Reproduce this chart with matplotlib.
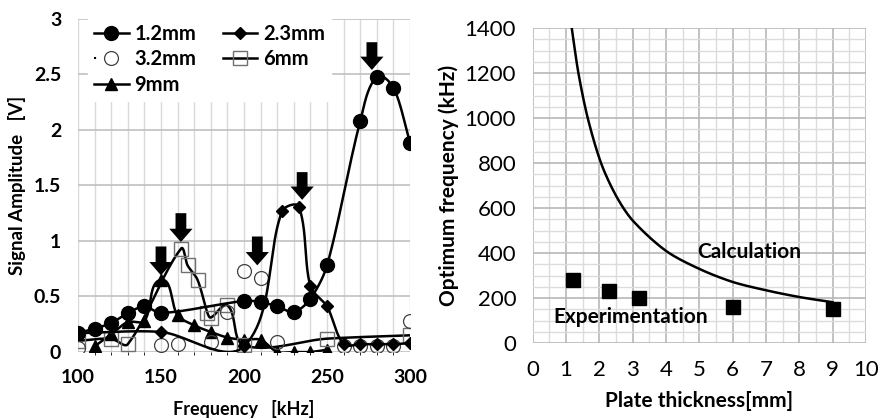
import numpy as np
import matplotlib
matplotlib.use("Agg")
from matplotlib import pyplot as plt
from matplotlib.lines import Line2D

plt.rcParams['font.family'] = ['Lato', 'DejaVu Sans']

# left chart: signal amplitude vs frequency
f_12 = [100, 110, 120, 130, 140, 150, 200, 210, 220, 230, 240, 250, 270, 280, 290, 300]
v_12 = [0.17, 0.21, 0.26, 0.35, 0.41, 0.35, 0.46, 0.45, 0.41, 0.36, 0.48, 0.78, 2.08, 2.48, 2.38, 1.88]
f_23 = [100, 150, 200, 223, 233, 240, 250, 260, 270, 280, 290, 300]
v_23 = [0.17, 0.18, 0.05, 1.27, 1.31, 0.59, 0.41, 0.07, 0.07, 0.07, 0.07, 0.08]
f_32 = [100, 150, 160, 180, 190, 200, 210, 220, 260, 270, 280, 290, 300]
v_32 = [0.04, 0.06, 0.07, 0.09, 0.36, 0.73, 0.67, 0.09, 0.05, 0.05, 0.05, 0.05, 0.28]
f_6 = [100, 120, 130, 162, 166, 172, 178, 180, 190, 200, 250, 300]
v_6 = [0.10, 0.12, 0.07, 0.93, 0.78, 0.65, 0.35, 0.31, 0.42, 0.06, 0.12, 0.15]
f_9 = [110, 120, 130, 140, 150, 160, 170, 180, 190, 200, 210, 220, 230, 240, 250]
v_9 = [0.05, 0.16, 0.27, 0.28, 0.65, 0.33, 0.24, 0.18, 0.13, 0.11, 0.11, 0.0, 0.0, 0.0, 0.02]

# arrows: frequency, top, tip
arrow_f = [150, 162, 208, 235, 277]
arrow_top = [0.95, 1.25, 1.04, 1.62, 2.79]
arrow_tip = [0.69, 0.99, 0.78, 1.37, 2.54]

# right chart: optimum frequency vs plate thickness
thick_exp = [1.2, 2.3, 3.2, 6, 9]
freq_exp = [280, 230, 200, 160, 150]
thick_calc = [1.17, 1.37, 1.65, 2.05, 2.5, 3, 4, 5, 6, 7, 8, 9]
freq_calc = [1400, 1200, 1000, 800, 655, 545, 410, 330, 272, 235, 205, 182]


def smooth(x, y, sx=1.0, sy=1.0, k=0.3, n=24):
    # bezier through the points, tangent from neighbours, handle length from
    # the segment length (worked out in screen-like units sx, sy)
    p = np.column_stack([np.asarray(x, float) * sx, np.asarray(y, float) * sy])
    m = len(p)
    tang = np.zeros_like(p)
    for i in range(m):
        a = p[max(i - 1, 0)]
        b = p[min(i + 1, m - 1)]
        d = b - a
        tang[i] = d / (np.hypot(*d) or 1)
    out = [p[0]]
    t = np.linspace(0, 1, n)[1:, None]
    for i in range(m - 1):
        L = np.hypot(*(p[i + 1] - p[i]))
        c1 = p[i] + tang[i] * L * k
        c2 = p[i + 1] - tang[i + 1] * L * k
        seg = ((1 - t) ** 3 * p[i] + 3 * (1 - t) ** 2 * t * c1
               + 3 * (1 - t) * t ** 2 * c2 + t ** 3 * p[i + 1])
        out.extend(seg)
    out = np.array(out)
    return out[:, 0] / sx, out[:, 1] / sy


fig = plt.figure(figsize=(8.88, 4.2), dpi=100)
ax1 = fig.add_axes([0.0878, 0.162, 0.374, 0.793])
ax2 = fig.add_axes([0.600, 0.183, 0.375, 0.750])

# ---- left chart
ax1.set_xlim(100, 300)
ax1.set_ylim(0, 3)
ax1.set_xticks(np.arange(100, 301, 10), minor=True)
ax1.set_xticks([100, 150, 200, 250, 300])
ax1.set_yticks([0, 0.5, 1, 1.5, 2, 2.5, 3])
ax1.set_yticklabels(["0", "0.5", "1", "1.5", "2", "2.5", "3"])
ax1.grid(True, which="minor", axis="x", color="#d9d9d9", lw=1)
ax1.grid(True, which="major", axis="x", color="#d9d9d9", lw=1)
ax1.grid(True, which="major", axis="y", color="#c0c0c0", lw=1.2)
ax1.set_axisbelow(True)
for s in ax1.spines.values():
    s.set_visible(False)
ax1.tick_params(length=0, labelsize=14, pad=12)
for lab in ax1.get_xticklabels() + ax1.get_yticklabels():
    lab.set_fontweight("bold")

lw = 1.8
sx, sy = 1.66, 111
x, y = smooth(f_9, v_9, sx, sy)
ax1.plot(x, y, color="black", lw=lw)
ax1.plot(f_9, v_9, ls="none", marker="^", ms=9, color="black")
x, y = smooth(f_6, v_6, sx, sy)
ax1.plot(x, y, color="black", lw=lw)
ax1.plot(f_6, v_6, ls="none", marker="s", ms=10, mfc="none", mec="#707070", mew=1)
ax1.plot(f_32, v_32, ls="none", marker="o", ms=10, mfc="none", mec="#404040", mew=0.9)
x, y = smooth(f_23, v_23, sx, sy)
ax1.plot(x, y, color="black", lw=lw)
ax1.plot(f_23, v_23, ls="none", marker="D", ms=6.5, color="black")
x, y = smooth(f_12, v_12, sx, sy)
ax1.plot(x, y, color="black", lw=lw)
ax1.plot(f_12, v_12, ls="none", marker="o", ms=10, color="black")

for af, at, ap in zip(arrow_f, arrow_top, arrow_tip):
    ax1.arrow(af, at, 0, ap - at, width=6.5, head_width=14, head_length=0.12,
              length_includes_head=True, color="black", lw=0)

h12 = Line2D([], [], color="black", lw=lw, marker="o", ms=10)
h23 = Line2D([], [], color="black", lw=lw, marker="D", ms=6.5)
h32 = Line2D([], [], color="black", lw=1.5, ls=(0, (1, 40)), marker="o", ms=10,
             mfc="none", mec="#404040", mew=0.9)
h6 = Line2D([], [], color="black", lw=lw, marker="s", ms=10, mfc="none", mec="#707070", mew=1)
h9 = Line2D([], [], color="black", lw=lw, marker="^", ms=9)
leg = ax1.legend([h12, h32, h9, h23, h6], ["1.2mm", "3.2mm", "9mm", "2.3mm", "6mm"],
                 ncol=2, loc="upper left", bbox_to_anchor=(0.025, 1.01), frameon=True,
                 framealpha=1, edgecolor="white", fancybox=False,
                 prop={"weight": "bold", "size": 14.5}, handlelength=1.7,
                 handletextpad=0.3, columnspacing=1.3, labelspacing=0.28,
                 borderpad=0.3, borderaxespad=0.1)

ax1.set_xlabel("Frequency   [kHz]", fontsize=13, fontweight="bold", labelpad=10)
ax1.set_ylabel("Signal Amplitude   [V]", fontsize=13.5, fontweight="bold", labelpad=6)

# ---- right chart
ax2.set_xlim(0, 10)
ax2.set_ylim(0, 1400)
ax2.set_xticks(np.arange(0, 11, 1))
ax2.set_xticks(np.arange(0, 10.01, 0.5), minor=True)
ax2.set_yticks(np.arange(0, 1401, 200))
ax2.set_yticks(np.arange(0, 1401, 50), minor=True)
ax2.grid(True, which="minor", color="#dcdcdc", lw=1)
ax2.grid(True, which="major", color="#b8b8b8", lw=1.2)
ax2.set_axisbelow(True)
for s in ax2.spines.values():
    s.set_visible(False)
ax2.tick_params(which="both", length=0, labelsize=16, pad=12)

x, y = smooth(thick_calc, freq_calc, 33.3, 0.225)
ax2.plot(x, y, color="black", lw=1.8)
ax2.plot(thick_exp, freq_exp, ls="none", marker="s", ms=10, color="black")
ax2.text(6.5, 404, "Calculation", fontsize=15, fontweight="bold", ha="center", va="center")
ax2.text(2.95, 116, "Experimentation", fontsize=15, fontweight="bold", ha="center", va="center")

ax2.set_xlabel("Plate thickness[mm]", fontsize=15, fontweight="bold", labelpad=8)
ax2.set_ylabel("Optimum frequency (kHz)", fontsize=15, fontweight="bold", labelpad=4)

fig.savefig("out.png", dpi=100)
